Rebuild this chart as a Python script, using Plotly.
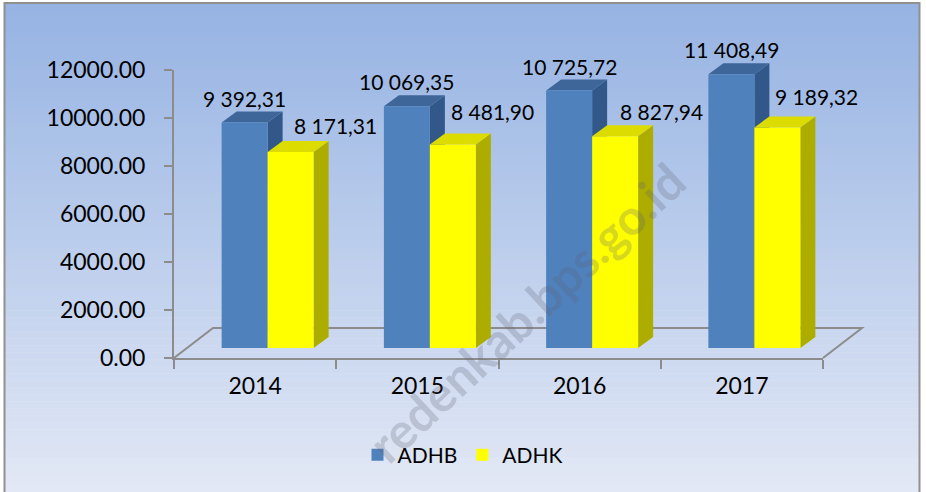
import plotly.graph_objects as go

# ---------------- data ----------------
years = ["2014", "2015", "2016", "2017"]
adhb = [9392.31, 10069.35, 10725.72, 11408.49]
adhk = [8171.31, 8481.90, 8827.94, 9189.32]
y_ticks = [0, 2000, 4000, 6000, 8000, 10000, 12000]

# ---------------- styling / geometry (pixels) ----------------
W, H = 926, 492
PX_L, PX_R, PY_TOP, PY_BOT = 174, 823, 70, 358
BAR_SHIFT_X, BAR_SHIFT_Y = 12.5, 10
FACE_DX, FACE_DY = 15, 11
FLOOR_DX, FLOOR_DY = 39, 30
BAR_W = 0.2835
YMAX = 12000

BLUE_FRONT, BLUE_TOP, BLUE_SIDE = "#4f81bd", "#3e6699", "#32588a"
YEL_FRONT, YEL_TOP, YEL_SIDE = "#ffff00", "#dcdc00", "#adad00"
AXIS_GRAY = "#8c8c8c"
FONT = "Lato"

yel_label_dx = [45, 40, 46, 39]
yel_label_dy = [26, 33, 25, 31]

cat_px = (PX_R - PX_L) / len(years)
ddx = FACE_DX / cat_px
ddy = FACE_DY / (PY_BOT - PY_TOP) * YMAX


def fmt(v):
    return f"{v:,.2f}".replace(",", " ").replace(".", ",")


def px(x):
    return x / W


def py(y):
    return 1 - y / H


xs = list(range(len(years)))

fig = go.Figure()
fig.add_trace(go.Bar(x=xs, y=adhb, name="ADHB", width=BAR_W, offset=-BAR_W,
                     marker=dict(color=BLUE_FRONT, line=dict(width=0)),
                     xaxis="x2", yaxis="y2"))
fig.add_trace(go.Bar(x=xs, y=adhk, name="ADHK", width=BAR_W, offset=0,
                     marker=dict(color=YEL_FRONT, line=dict(width=0)),
                     xaxis="x2", yaxis="y2"))
# invisible trace to keep the category axis
fig.add_trace(go.Scatter(x=years, y=[0] * len(years), mode="markers",
                         marker=dict(opacity=0), showlegend=False,
                         hoverinfo="skip"))

shapes = []
# gradient background
N = 70
top_c = (150, 179, 227)
bot_c = (226, 232, 245)
y0p, y1p = 3, H
for k in range(N):
    t = k / (N - 1)
    c = tuple(round(top_c[j] + (bot_c[j] - top_c[j]) * t) for j in range(3))
    ya = y0p + (y1p - y0p) * k / N
    yb = y0p + (y1p - y0p) * (k + 1) / N + 0.5
    shapes.append(dict(type="rect", xref="paper", yref="paper", layer="below",
                       x0=px(4), x1=px(920), y0=py(ya), y1=py(yb),
                       fillcolor=f"rgb{c}", line=dict(width=0)))
# border
shapes.append(dict(type="rect", xref="paper", yref="paper", layer="below",
                   x0=px(4.5), x1=px(919.5), y0=py(3), y1=py(H + 5),
                   fillcolor="rgba(0,0,0,0)", line=dict(color="#909090", width=2)))
# floor (3D)
floor = [(PX_L, PY_BOT), (PX_L + FLOOR_DX, PY_BOT - FLOOR_DY),
         (PX_R + FLOOR_DX, PY_BOT - FLOOR_DY), (PX_R, PY_BOT)]
path = "M " + " L ".join(f"{px(a)},{py(b)}" for a, b in floor)
shapes.append(dict(type="path", xref="paper", yref="paper", layer="below",
                   path=path, line=dict(color=AXIS_GRAY, width=2)))


def poly(points):
    return "M " + " L ".join(f"{a},{b}" for a, b in points) + " Z"


# 3D faces of bars
for i, x in enumerate(xs):
    for vals, off, top_col, side_col in [(adhb, -BAR_W, BLUE_TOP, BLUE_SIDE),
                                         (adhk, 0, YEL_TOP, YEL_SIDE)]:
        v = vals[i]
        x0 = x + off
        x1 = x0 + BAR_W
        side = [(x1, 0), (x1, v), (x1 + ddx, v + ddy), (x1 + ddx, ddy)]
        top = [(x0, v), (x1, v), (x1 + ddx, v + ddy), (x0 + ddx, v + ddy)]
        shapes.append(dict(type="path", xref="x2", yref="y2", layer="below",
                           path=poly(side), fillcolor=side_col, line=dict(width=0)))
        shapes.append(dict(type="path", xref="x2", yref="y2", layer="below",
                           path=poly(top), fillcolor=top_col, line=dict(width=0)))

annotations = []
for i, x in enumerate(xs):
    annotations.append(dict(x=x - BAR_W / 2, y=adhb[i], xref="x2", yref="y2",
                            text=fmt(adhb[i]), showarrow=False, yshift=24.5,
                            xanchor="center", yanchor="middle",
                            font=dict(family=FONT, size=21, color="black")))
    annotations.append(dict(x=x + BAR_W / 2, y=adhk[i], xref="x2", yref="y2",
                            text=fmt(adhk[i]), showarrow=False,
                            xanchor="center", yanchor="middle",
                            xshift=yel_label_dx[i], yshift=yel_label_dy[i],
                            font=dict(family=FONT, size=21, color="black")))
# watermark
annotations.append(dict(x=px(526), y=py(312), xref="paper", yref="paper",
                        xanchor="center", yanchor="middle",
                        text="<b>redenkab.bps.go.id</b>", showarrow=False,
                        textangle=-43,
                        font=dict(family=FONT, size=49, color="rgba(95,100,115,0.25)")))

fig.update_layout(
    width=W, height=H,
    margin=dict(l=0, r=0, t=0, b=0, pad=0, autoexpand=False),
    paper_bgcolor="white", plot_bgcolor="rgba(0,0,0,0)",
    showlegend=True,
    legend=dict(orientation="h", x=px(463), xanchor="center", y=py(455),
                yanchor="middle", bgcolor="rgba(0,0,0,0)",
                font=dict(family=FONT, size=21, color="black")),
    xaxis=dict(type="category", categoryorder="array", categoryarray=years,
               range=[-0.5, len(years) - 0.5], autorange=False,
               domain=[px(PX_L), px(PX_R)], anchor="y", automargin=False,
               showline=True, linecolor=AXIS_GRAY, linewidth=2,
               ticks="outside", tickson="boundaries", ticklen=9, tickwidth=2,
               tickcolor=AXIS_GRAY, showgrid=False, zeroline=False,
               tickfont=dict(family=FONT, size=23, color="black"),
               ticklabelstandoff=6),
    yaxis=dict(range=[0, YMAX], autorange=False, tickvals=y_ticks, tickformat=".2f",
               domain=[py(PY_BOT), py(PY_TOP)], anchor="x", automargin=False,
               showline=True, linecolor=AXIS_GRAY, linewidth=2,
               ticks="outside", ticklen=8, tickwidth=2, tickcolor=AXIS_GRAY,
               showgrid=False, zeroline=False,
               tickfont=dict(family=FONT, size=23, color="black"),
               ticklabelstandoff=14),
    xaxis2=dict(range=[-0.5, len(years) - 0.5], anchor="y2", visible=False,
                domain=[px(PX_L + BAR_SHIFT_X), px(PX_R + BAR_SHIFT_X)]),
    yaxis2=dict(range=[0, YMAX], anchor="x2", visible=False,
                domain=[py(PY_BOT - BAR_SHIFT_Y), py(PY_TOP - BAR_SHIFT_Y)]),
    barmode="overlay",
    shapes=shapes,
    annotations=annotations,
)

fig.write_html("out.html", config={"displayModeBar": False},
               post_script="document.body.style.margin='0';"
                           "document.body.style.overflow='hidden';")
